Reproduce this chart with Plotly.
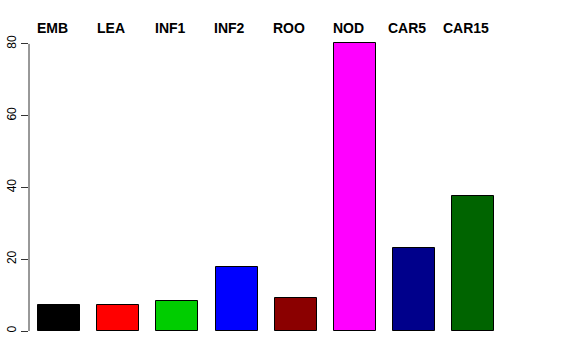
import plotly.graph_objects as go

categories = ["EMB", "LEA", "INF1", "INF2", "ROO", "NOD", "CAR5", "CAR15"]
values = [7.2, 7.2, 8.4, 17.9, 9.2, 80.3, 23.1, 37.6]
colors = ["#000000", "#FF0000", "#00CD00", "#0000FF", "#8B0000", "#FF00FF", "#00008B", "#006400"]
yticks = [0, 20, 40, 60, 80]

xs = list(range(len(categories)))

fig = go.Figure()
fig.add_trace(go.Bar(
    x=xs, y=values, width=0.71,
    marker=dict(color=colors, line=dict(color="#000000", width=1)),
    showlegend=False, hoverinfo="skip",
))

for i, c in enumerate(categories):
    fig.add_annotation(x=i, y=1, xref="x", yref="paper", text="<b>%s</b>" % c,
                       showarrow=False, xanchor="center", yanchor="middle",
                       yshift=8, xshift=-7,
                       font=dict(family="Liberation Sans, Arial", size=14, color="#000000"))

fig.add_shape(type="line", xref="paper", yref="y", x0=0, x1=0, y0=0, y1=80,
              line=dict(color="#333333", width=1))

fig.update_layout(
    width=576, height=360,
    margin=dict(l=29, r=73, t=36, b=29, autoexpand=False),
    paper_bgcolor="white", plot_bgcolor="white",
    bargap=0,
    xaxis=dict(range=[-0.507, 7.5], showgrid=False, zeroline=False, showline=False,
               showticklabels=False, ticks="", automargin=False),
    yaxis=dict(range=[0, 82.2], showgrid=False, zeroline=False, showline=False,
               tickmode="array", tickvals=yticks, ticktext=[str(v) for v in yticks],
               ticks="outside", ticklen=7, tickcolor="#333333", tickangle=-90,
               automargin=False,
               tickfont=dict(family="Liberation Sans, Arial", size=12, color="#000000")),
    font=dict(family="Liberation Sans, Arial"),
)

fig.write_html("out.html", config={"displayModeBar": False},
               post_script="document.body.style.margin='0';")
